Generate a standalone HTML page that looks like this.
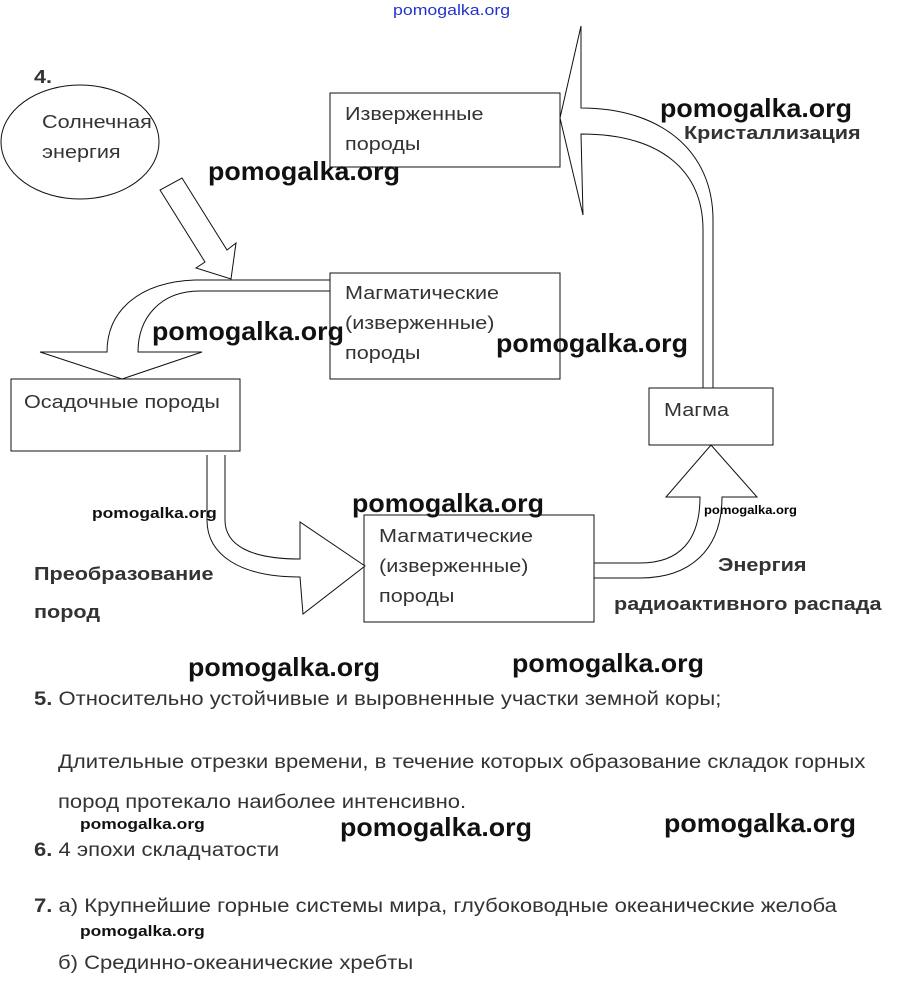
<!DOCTYPE html>
<html><head><meta charset="utf-8"><style>
body{margin:0;background:#fff;width:901px;height:992px;overflow:hidden;position:relative;font-family:"Liberation Sans",sans-serif}
.t{position:absolute;white-space:nowrap;transform-origin:0 0}
.box{color:#333;font-size:18px;line-height:30px;transform:scaleX(1.2)}
.wm{font-weight:bold;font-size:26px;color:#111;transform:scaleX(1.03)}
.ws{font-weight:bold;font-size:15px;color:#111;transform:scaleX(1.16)}
.lb{font-weight:bold;font-size:18px;color:#333;transform:scaleX(1.2)}
.tx{font-size:19px;color:#333;transform:scaleX(1.16)}
</style></head><body>
<svg width="901" height="992" style="position:absolute;left:0;top:0" fill="#fff" stroke="#111" stroke-width="1">
<ellipse cx="80" cy="142" rx="79" ry="57"/>
<polygon points="160,190 205,262 196,268 231,279 236,243 227,250 182,178"/>
<path d="M330,280 L195,280 C140,282 107,310 107,352 L40,352 L122,379 L202,352 L138,352 C138,318 160,291 200,291 L330,291"/>
<rect x="11" y="379" width="229" height="72"/>
<rect x="330" y="273" width="230" height="106"/>
<rect x="330" y="93" width="230" height="74"/>
<path d="M703,388 L703,230 C703,170 660,134 581,134 L583,215 L560,118 L581,26 L581,108 C660,108 713,150 713,220 L713,388"/>
<rect x="649" y="388" width="124" height="57"/>
<path d="M594,563 L640,563 C680,563 700,540 700,497 L666,497 L711,445 L757,497 L722,497 C722,550 690,578 640,578 L594,578"/>
<rect x="364" y="515" width="230" height="107"/>
<path d="M207,455 L207,520 C207,555 240,577 300,577 L303,614 L365,566 L300,522 L300,559 C250,559 225,545 225,520 L225,455"/>
</svg>
<div class="t" style="left:393px;top:2px;color:#2233cc;font-size:15px;transform:scaleX(1.18)">pomogalka.org</div>
<div class="t lb" style="left:34px;top:67px">4.</div>
<div class="t box" style="left:42px;top:107px">Солнечная<br>энергия</div>
<div class="t box" style="left:345px;top:99px">Изверженные<br>породы</div>
<div class="t box" style="left:345px;top:278px">Магматические<br>(изверженные)<br>породы</div>
<div class="t box" style="left:24px;top:387px">Осадочные породы</div>
<div class="t box" style="left:664px;top:395px">Магма</div>
<div class="t box" style="left:379px;top:521px">Магматические<br>(изверженные)<br>породы</div>
<div class="t lb" style="left:684px;top:123px">Кристаллизация</div>
<div class="t lb" style="left:34px;top:555px;line-height:38px">Преобразование<br>пород</div>
<div class="t lb" style="left:718px;top:555px">Энергия</div>
<div class="t lb" style="left:614px;top:594px">радиоактивного распада</div>
<div class="t wm" style="left:660px;top:93px">pomogalka.org</div>
<div class="t wm" style="left:208px;top:156px">pomogalka.org</div>
<div class="t wm" style="left:152px;top:316px">pomogalka.org</div>
<div class="t wm" style="left:496px;top:328px">pomogalka.org</div>
<div class="t wm" style="left:352px;top:488px">pomogalka.org</div>
<div class="t ws" style="left:92px;top:505px">pomogalka.org</div>
<div class="t" style="left:704px;top:503px;font-size:12px;font-weight:bold;transform:scaleX(1.08)">pomogalka.org</div>
<div class="t wm" style="left:188px;top:652px">pomogalka.org</div>
<div class="t wm" style="left:512px;top:648px">pomogalka.org</div>
<div class="t tx" style="left:34px;top:689px"><b>5.</b> Относительно устойчивые и выровненные участки земной коры;</div>
<div class="t tx" style="left:58px;top:743px;line-height:40px">Длительные отрезки времени, в течение которых образование складок горных<br>пород протекало наиболее интенсивно.</div>
<div class="t ws" style="left:80px;top:816px">pomogalka.org</div>
<div class="t wm" style="left:340px;top:812px">pomogalka.org</div>
<div class="t wm" style="left:664px;top:808px">pomogalka.org</div>
<div class="t tx" style="left:34px;top:840px"><b>6.</b> 4 эпохи складчатости</div>
<div class="t tx" style="left:34px;top:896px"><b>7.</b> а) Крупнейшие горные системы мира, глубоководные океанические желоба</div>
<div class="t ws" style="left:80px;top:923px">pomogalka.org</div>
<div class="t tx" style="left:58px;top:953px">б) Срединно-океанические хребты</div>
</body></html>
